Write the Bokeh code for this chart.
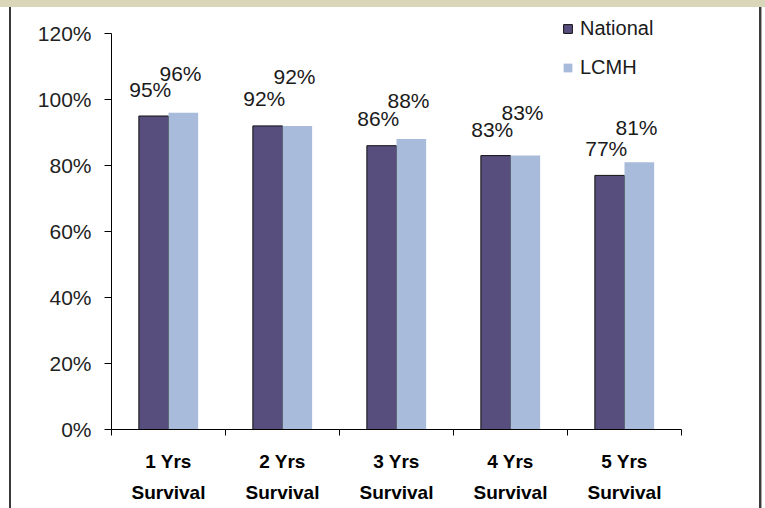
import numpy as np
from bokeh.plotting import figure
from bokeh.models import (ColumnDataSource, Range1d, FixedTicker, NumeralTickFormatter,
                          LabelSet, Legend, LegendItem)
from bokeh.transform import dodge
from bokeh.core.properties import value
from bokeh.embed import file_html
from bokeh.resources import INLINE

# ---- data ----
categories = ["1 Yrs Survival", "2 Yrs Survival", "3 Yrs Survival", "4 Yrs Survival", "5 Yrs Survival"]
national = [0.95, 0.92, 0.86, 0.83, 0.77]
lcmh = [0.96, 0.92, 0.88, 0.83, 0.81]
y_ticks = [0.0, 0.2, 0.4, 0.6, 0.8, 1.0, 1.2]
series_names = ["National", "LCMH"]

# ---- styling (label lifts in pixels, as placed in the original) ----
national_label_lift = [27, 27, 27, 26, 27]
lcmh_label_lift = [39, 49, 39, 43, 35]

FONT = "Liberation Sans"
NAT_COLOR = "#574E7D"
LCMH_COLOR = "#A8BBDA"

W, H = 765, 508
AXIS_TOP, AXIS_BOTTOM, FRAME_TOP = 33, 429, 14   # pixel rows of the 120% tick, the 0% tick, the frame top

idx = np.arange(len(categories)) + 0.5
src = ColumnDataSource(dict(
    x=idx,
    nat=national,
    lcmh=lcmh,
    nat_txt=[f"{round(v * 100)}%" for v in national],
    lcmh_txt=[f"{round(v * 100)}%" for v in lcmh],
    nat_dy=national_label_lift,
    lcmh_dy=lcmh_label_lift,
))

# frame reaches a little above the 120% tick so the legend has room; axis line stops at 120%
y_end = y_ticks[-1] * (AXIS_BOTTOM - FRAME_TOP) / (AXIS_BOTTOM - AXIS_TOP)

p = figure(width=W, height=H,
           x_range=Range1d(0, len(categories)), y_range=Range1d(0, y_end),
           output_backend="svg", toolbar_location=None,
           min_border_left=111, min_border_right=84, min_border_top=FRAME_TOP,
           min_border_bottom=H - AXIS_BOTTOM)
p.background_fill_color = "white"
p.border_fill_color = None
p.outline_line_color = None
p.xgrid.visible = False
p.ygrid.visible = False
# chart-area decorations (beige top band, dark side borders) painted behind the canvas
p.styles = {
    "background": (
        "linear-gradient(#D9D6BA,#D9D6BA) 0 0 / 100% 7px no-repeat,"
        "linear-gradient(#3a3a3a,#3a3a3a) 9px 7px / 2px 100% no-repeat,"
        "linear-gradient(#3a3a3a,#3a3a3a) 759px 7px / 2px 100% no-repeat,"
        "linear-gradient(#aaaaaa,#aaaaaa) 761px 7px / 1px 100% no-repeat,"
        "white"
    )
}

bw = 0.26
r1 = p.vbar(x=dodge("x", -0.13), top="nat", width=bw, source=src,
            fill_color=NAT_COLOR, line_color="#111111", line_width=1)
r2 = p.vbar(x=dodge("x", 0.13), top="lcmh", width=bw, source=src,
            fill_color=LCMH_COLOR, line_color=None)

lbl_kw = dict(source=src, text_font=value(FONT), text_font_size="21px", text_color="#1a1a1a",
              text_align="center", text_baseline="middle")
p.add_layout(LabelSet(x=dodge("x", -0.16), y="nat", text="nat_txt", y_offset="nat_dy", **lbl_kw))
p.add_layout(LabelSet(x=dodge("x", 0.105), y="lcmh", text="lcmh_txt", y_offset="lcmh_dy", **lbl_kw))

# y axis
p.yaxis.ticker = FixedTicker(ticks=y_ticks, minor_ticks=[])
p.yaxis.bounds = (y_ticks[0], y_ticks[-1])
p.yaxis.formatter = NumeralTickFormatter(format="0%")
p.yaxis.major_tick_out = 7
p.yaxis.major_tick_in = 0
p.yaxis.minor_tick_out = 0
p.yaxis.major_label_standoff = 13
p.yaxis.major_label_text_font = FONT
p.yaxis.major_label_text_font_size = "21px"
p.yaxis.major_label_text_color = "#222222"
p.yaxis.axis_line_color = "black"
p.yaxis.major_tick_line_color = "black"

# x axis: labels at category centres, ticks at category boundaries
p.xaxis.ticker = FixedTicker(ticks=list(idx), minor_ticks=list(range(len(categories) + 1)))
p.xaxis.major_label_overrides = {float(x): c.replace(" Survival", "\nSurvival")
                                 for x, c in zip(idx, categories)}
p.xaxis.major_tick_out = 0
p.xaxis.major_tick_in = 0
p.xaxis.minor_tick_out = 6
p.xaxis.minor_tick_in = 0
p.xaxis.minor_tick_line_color = "black"
p.xaxis.axis_line_color = "black"
p.xaxis.major_label_standoff = 15
p.xaxis.major_label_text_font = FONT
p.xaxis.major_label_text_font_style = "bold"
p.xaxis.major_label_text_font_size = "19px"
p.xaxis.major_label_text_line_height = 1.5
p.xaxis.major_label_text_color = "black"

legend = Legend(items=[LegendItem(label=series_names[0], renderers=[r1]),
                       LegendItem(label=series_names[1], renderers=[r2])],
                location=(451, 350), orientation="vertical",
                background_fill_alpha=0, border_line_color=None,
                label_text_font=FONT, label_text_font_size="20px", label_text_color="#1a1a1a",
                glyph_width=11, glyph_height=11, spacing=16, padding=0, margin=0,
                label_standoff=7)
p.add_layout(legend)

open("out.html", "w").write(file_html(p, INLINE))
